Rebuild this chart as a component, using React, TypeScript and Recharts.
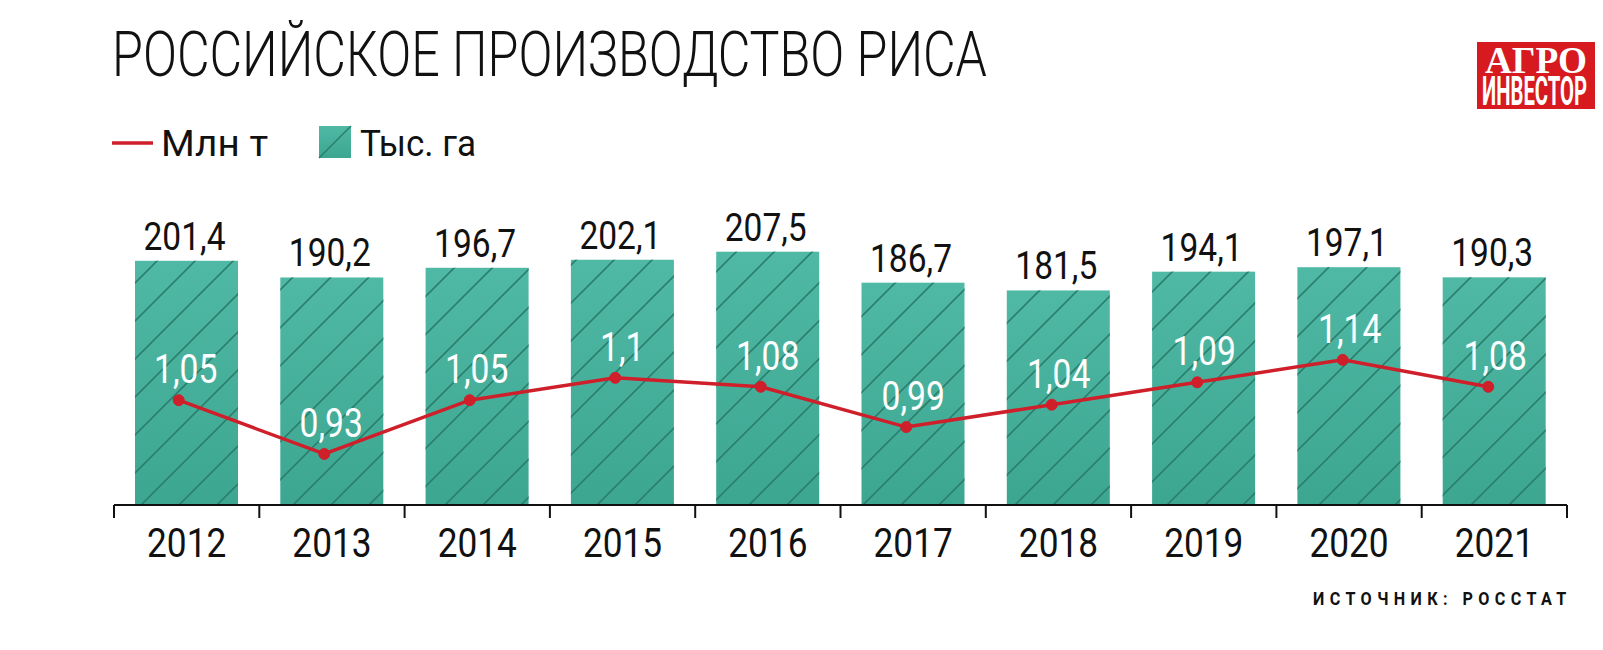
import React from "react";
import {
  ComposedChart,
  Bar,
  Line,
  XAxis,
  YAxis,
  LabelList,
} from "recharts";

const years = ["2012", "2013", "2014", "2015", "2016", "2017", "2018", "2019", "2020", "2021"];
const areaKha = [201.4, 190.2, 196.7, 202.1, 207.5, 186.7, 181.5, 194.1, 197.1, 190.3];
const outputMt = [1.05, 0.93, 1.05, 1.1, 1.08, 0.99, 1.04, 1.09, 1.14, 1.08];

const data = years.map((year, i) => ({ year, area: areaKha[i], output: outputMt[i] }));

const W = 1603;
const H = 650;
const M = { top: 200, right: 36, bottom: 85, left: 114 };
const BAND = (W - M.left - M.right) / years.length;

const FONT = "Roboto, 'Liberation Sans', sans-serif";
const fmt = (v: number) => String(v).replace(".", ",");

const YearTick = (props: any) => {
  const { x, y, payload, index } = props;
  // y comes from recharts a few px under the axis line
  const top = y - 8;
  return (
    <g>
      {index === 0 && (
        <line x1={x - BAND / 2} x2={x - BAND / 2} y1={top} y2={top + 13} stroke="#111" strokeWidth={2} />
      )}
      <line x1={x + BAND / 2} x2={x + BAND / 2} y1={top} y2={top + 13} stroke="#111" strokeWidth={2} />
      <text
        transform={`translate(${x} ${top + 52}) scale(0.86 1)`}
        textAnchor="middle"
        fontFamily={FONT}
        fontSize={41}
        fill="#111"
      >
        {payload.value}
      </text>
    </g>
  );
};

const BarLabel = (props: any) => {
  const { x, y, width, value } = props;
  return (
    <text
      transform={`translate(${x + width / 2 - 2} ${y - 11}) scale(0.86 1)`}
      textAnchor="middle"
      fontFamily={FONT}
      fontSize={39}
      fill="#111"
    >
      {fmt(value)}
    </text>
  );
};

const LineLabel = (props: any) => {
  const { x, y, value } = props;
  return (
    <text
      transform={`translate(${x + 7} ${y - 17}) scale(0.82 1)`}
      textAnchor="middle"
      fontFamily={FONT}
      fontSize={41}
      fill="#ffffff"
    >
      {fmt(value)}
    </text>
  );
};

const HatchBar = (props: any) => {
  const { x, y, width, height } = props;
  return (
    <g>
      <rect x={x} y={y} width={width} height={height} fill="url(#barGrad)" />
      <rect x={x} y={y} width={width} height={height} fill="url(#hatch)" />
    </g>
  );
};

export default function App() {
  return (
    <div style={{ position: "relative", width: W, height: H, background: "#fff", overflow: "hidden" }}>
      <style>{"body{margin:0}"}</style>
      <svg width={W} height={H} style={{ position: "absolute", left: 0, top: 0 }}>
        <defs>
          <linearGradient id="barGrad" x1="0" y1="0" x2="0" y2="1">
            <stop offset="0%" stopColor="#50b9a5" />
            <stop offset="100%" stopColor="#3da691" />
          </linearGradient>
          <pattern id="hatch" patternUnits="userSpaceOnUse" width={38} height={38}>
            <path d="M-3,3 L3,-3 M0,38 L38,0 M35,41 L41,35" stroke="#2a7f6d" strokeWidth={1.6} />
          </pattern>
        </defs>
        <text x={112} y={76} fontFamily={FONT} fontWeight={300} fontSize={63} fill="#111" textLength={875} lengthAdjust="spacingAndGlyphs">
          РОССИЙСКОЕ ПРОИЗВОДСТВО РИСА
        </text>
        <line x1={112} x2={153} y1={143} y2={143} stroke="#cf1f2a" strokeWidth={3.5} />
        <text x={161} y={156} fontFamily={FONT} fontSize={37} fill="#111" textLength={107} lengthAdjust="spacingAndGlyphs">
          Млн т
        </text>
        <rect x={319} y={126} width={32} height={32} fill="url(#barGrad)" />
        <line x1={319} y1={158} x2={351} y2={126} stroke="#2a7f6d" strokeWidth={1.6} />
        <text x={360} y={156} fontFamily={FONT} fontSize={37} fill="#111" textLength={116} lengthAdjust="spacingAndGlyphs">
          Тыс. га
        </text>
        <rect x={1477} y={42} width={118} height={67} fill="#d71920" />
        <text x={1485} y={73} fontFamily="'Liberation Serif', serif" fontWeight="bold" fontSize={38} fill="#fff" textLength={102} lengthAdjust="spacingAndGlyphs">
          АГРО
        </text>
        <text x={1482} y={105} fontFamily={FONT} fontWeight="bold" fontSize={40} fill="#fff" textLength={105} lengthAdjust="spacingAndGlyphs">
          ИНВЕСТОР
        </text>
        <text
          transform="translate(1313 605) scale(0.85 1)"
          x={0}
          y={0}
          fontFamily={FONT}
          fontWeight="bold"
          fontSize={19}
          fill="#111"
          textLength={298}
          lengthAdjust="spacing"
        >
          ИСТОЧНИК: РОССТАТ
        </text>
      </svg>
      <div style={{ position: "absolute", left: 0, top: 0 }}>
        <ComposedChart width={W} height={H} data={data} margin={M}>
          <XAxis
            xAxisId="main"
            dataKey="year"
            height={60}
            axisLine={{ stroke: "#111", strokeWidth: 2 }}
            tickLine={false}
            tick={<YearTick />}
            interval={0}
          />
          <XAxis xAxisId="line" dataKey="year" hide height={0} padding={{ left: -8, right: 6 }} />
          <YAxis yAxisId="bar" hide domain={[37.5, 242.2]} />
          <YAxis yAxisId="line" hide orientation="right" domain={[0.816, 1.497]} />
          <Bar
            xAxisId="main"
            yAxisId="bar"
            dataKey="area"
            barSize={103}
            shape={<HatchBar />}
            isAnimationActive={false}
          >
            <LabelList dataKey="area" content={<BarLabel />} />
          </Bar>
          <Line
            xAxisId="line"
            yAxisId="line"
            dataKey="output"
            stroke="#cf1f2a"
            strokeWidth={3.5}
            dot={{ r: 5.5, fill: "#cf1f2a", stroke: "#cf1f2a", strokeWidth: 1 }}
            activeDot={false}
            isAnimationActive={false}
          >
            <LabelList dataKey="output" content={<LineLabel />} />
          </Line>
        </ComposedChart>
      </div>
    </div>
  );
}
